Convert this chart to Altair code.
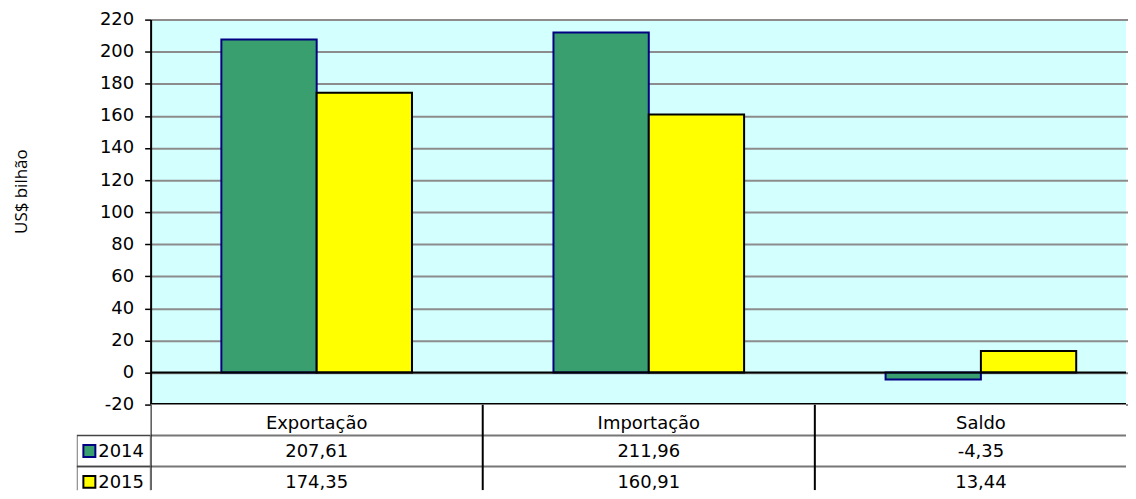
import altair as alt
import pandas as pd

categories = ["Exportação", "Importação", "Saldo"]
years = ["2014", "2015"]
values_2014 = [207.61, 211.96, -4.35]
values_2015 = [174.35, 160.91, 13.44]
y_ticks = [-20, 0, 20, 40, 60, 80, 100, 120, 140, 160, 180, 200, 220]
baseline = [0]
fill_colors = ["#3a9f6e", "#ffff00"]
stroke_colors = ["#000080", "#000000"]
table_rows = ["header", "2014", "2015"]


def fmt(v):
    return f"{v:.2f}".replace(".", ",")


bar_records = []
cell_records = []
for c, a, b in zip(categories, values_2014, values_2015):
    bar_records.append({"cat": c, "year": "2014", "value": a})
    bar_records.append({"cat": c, "year": "2015", "value": b})
    cell_records.append({"cat": c, "row": "header", "text": c})
    cell_records.append({"cat": c, "row": "2014", "text": fmt(a)})
    cell_records.append({"cat": c, "row": "2015", "text": fmt(b)})
bars_df = pd.DataFrame(bar_records)
cells_df = pd.DataFrame(cell_records)
zero_df = pd.DataFrame({"v": baseline})
frame_df = pd.DataFrame({"v": [y_ticks[0]]})
left_df = pd.DataFrame({"row": years, "col": ["c"] * len(years)})
vline_df = pd.DataFrame({"cat": categories})
hline_df = pd.DataFrame({"row": years})

W = 978          # visible plot width (chart continues past the right edge)
STEP_RANGE = 999  # full x range of the three category columns
H = 386
TABLE_H = 86
TABLE_RANGE = 93
LEFT_W = 74
FONT = "DejaVu Sans"
GRID_GRAY = "#8c8c8c"
TABLE_GRAY = "#777777"

y_scale = alt.Scale(domain=[-20, 220], nice=False, zero=False)
y_axis = alt.Axis(
    values=y_ticks, grid=True, gridColor=GRID_GRAY, gridWidth=2,
    domainColor="black", domainWidth=2, tickColor="black", tickSize=6, tickWidth=1.5,
    labelPadding=11, labelFont=FONT, labelFontSize=18, labelColor="black",
    labelExpr="'' + datum.value",
    title="US$ bilhão", titleFont="Open Sans", titleFontSize=17, titleFontWeight="normal",
    titleColor="black", titleX=-120, titleY=172, titleAlign="center", titleBaseline="bottom",
    titleAngle=270,
)
fill_scale = alt.Scale(domain=years, range=fill_colors)
stroke_scale = alt.Scale(domain=years, range=stroke_colors)

bars = alt.Chart(bars_df).mark_bar(strokeWidth=2).encode(
    x=alt.X("cat:N", sort=categories,
            scale=alt.Scale(domain=categories, range=[0, STEP_RANGE],
                            paddingInner=0.426, paddingOuter=0.213),
            axis=None),
    xOffset=alt.XOffset("year:N", sort=years,
                        scale=alt.Scale(domain=years, paddingInner=0, paddingOuter=0)),
    y=alt.Y("value:Q", scale=y_scale, axis=y_axis),
    fill=alt.Fill("year:N", scale=fill_scale, legend=None),
    stroke=alt.Stroke("year:N", scale=stroke_scale, legend=None),
)

zero = alt.Chart(zero_df).mark_rule(color="black", strokeWidth=2).encode(
    y=alt.Y("v:Q", scale=y_scale, axis=y_axis)
)
frame = alt.Chart(frame_df).mark_rule(color="black", strokeWidth=3).encode(
    y=alt.Y("v:Q", scale=y_scale, axis=y_axis)
)

top = alt.layer(bars, zero, frame).properties(
    width=W, height=H,
    view=alt.ViewBackground(fill="#d4ffff", strokeWidth=0),
)

spacer = alt.Chart(zero_df).mark_point(opacity=0).properties(
    width=LEFT_W, height=H, view=alt.ViewBackground(strokeWidth=0)
)

row_scale = alt.Scale(domain=table_rows, range=[0, TABLE_RANGE], paddingInner=0, paddingOuter=0)
cat_scale = alt.Scale(domain=categories, range=[0, STEP_RANGE], paddingInner=0, paddingOuter=0)

x_table = alt.X("cat:N", sort=categories, scale=cat_scale, axis=None)
y_table = alt.Y("row:N", sort=table_rows, scale=row_scale, axis=None)

header_text = alt.Chart(cells_df).transform_filter(alt.datum.row == "header").mark_text(
    font=FONT, fontSize=18, color="black", baseline="middle", dy=4, clip=True
).encode(x=x_table, y=y_table, text="text:N")

value_text = alt.Chart(cells_df).transform_filter(alt.datum.row != "header").mark_text(
    font=FONT, fontSize=18, color="black", baseline="middle", dy=1, clip=True
).encode(x=x_table, y=y_table, text="text:N")

vlines = alt.Chart(vline_df).mark_rule(color="black", strokeWidth=2, clip=True).encode(
    x=alt.X("cat:N", sort=categories, scale=cat_scale, axis=None, bandPosition=0)
)
hlines = alt.Chart(hline_df).mark_rule(color=TABLE_GRAY, strokeWidth=2, clip=True).encode(
    y=alt.Y("row:N", sort=table_rows, scale=row_scale, axis=None, bandPosition=0)
)

table = alt.layer(hlines, vlines, header_text, value_text).properties(
    width=W, height=TABLE_H,
    view=alt.ViewBackground(fill="white", strokeWidth=0),
)

col_scale = alt.Scale(domain=["c"], paddingInner=0, paddingOuter=0)
y_left = alt.Y("row:N", sort=table_rows, scale=row_scale, axis=None)

left_cells = alt.Chart(left_df).mark_rect(
    fillOpacity=0, stroke="#444444", strokeWidth=1.5, clip=True
).encode(x=alt.X("col:N", scale=col_scale, axis=None), y=y_left)

left_swatch = alt.Chart(left_df).mark_square(size=144, strokeWidth=2, opacity=1, clip=True).encode(
    x=alt.X("col:N", scale=col_scale, axis=None, bandPosition=0.17),
    y=y_left,
    fill=alt.Fill("row:N", scale=fill_scale, legend=None),
    stroke=alt.Stroke("row:N", scale=stroke_scale, legend=None),
)

left_label = alt.Chart(left_df).mark_text(
    font=FONT, fontSize=18, color="black", align="left", baseline="middle", dy=1, clip=True
).encode(
    x=alt.X("col:N", scale=col_scale, axis=None, bandPosition=0.29),
    y=y_left,
    text="row:N",
)

leftcol = alt.layer(left_cells, left_swatch, left_label).properties(
    width=LEFT_W, height=TABLE_H,
    view=alt.ViewBackground(strokeWidth=0),
)

chart = alt.concat(spacer, top, leftcol, table, columns=2, spacing=0, bounds="flush").properties(
    padding={"left": 5, "top": 2, "right": 0, "bottom": 0},
    background="white",
).configure_view(strokeWidth=0)

chart.save("out.html", embed_options={"renderer": "svg", "actions": False})
